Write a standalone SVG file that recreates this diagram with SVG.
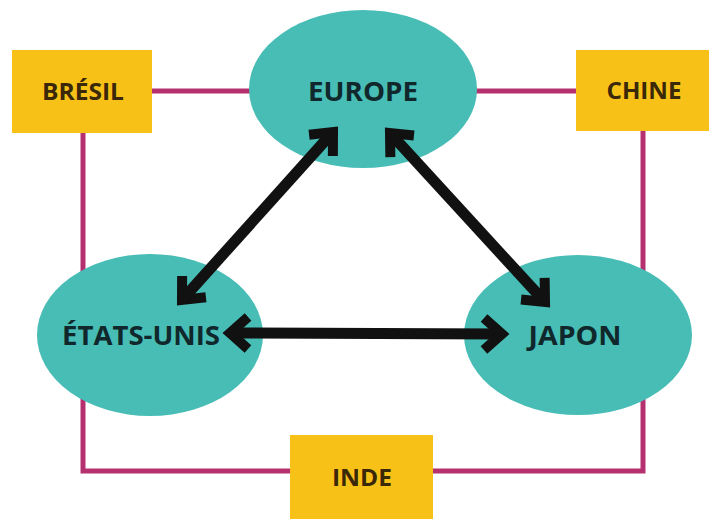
<svg xmlns="http://www.w3.org/2000/svg" width="709" height="519" viewBox="0 0 709 519">
<style>
.link{fill:none;stroke:#B5306F;stroke-width:5}
.region{fill:#47BDB5}
.country{fill:#F8C117}
.arrow{fill:none;stroke:#111;stroke-width:11;marker-start:url(#chev);marker-end:url(#chev)}
.lt{font-family:"Open Sans","Liberation Sans",sans-serif;font-weight:bold;text-anchor:middle;dominant-baseline:central}
.rt{fill:#10282B;font-size:26px}
.ct{fill:#3A2808;font-size:23px}
</style>
<defs>
<marker id="chev" markerUnits="userSpaceOnUse" markerWidth="60" markerHeight="60" viewBox="-30 -30 60 60" refX="0" refY="0" orient="auto-start-reverse" overflow="visible">
<path d="M-18 -16 L0 0 L-18 16" fill="none" stroke="#111" stroke-width="10" stroke-linejoin="miter" stroke-miterlimit="10"/>
</marker>
</defs>
<rect width="709" height="519" fill="#fff"/>
<g id="links">
<path class="link" d="M152 91 H252"/>
<path class="link" d="M474 91 H576"/>
<path class="link" d="M83 133 V471 H290"/>
<path class="link" d="M643 130 V471 H433"/>
</g>
<g id="node-bresil">
<rect class="country" x="12" y="50" width="140" height="83"/>
<text class="lt ct" x="83" y="91" textLength="82" lengthAdjust="spacingAndGlyphs">BRÉSIL</text>
</g>
<g id="node-chine">
<rect class="country" x="576" y="50" width="140" height="81"/>
<text class="lt ct" x="644" y="90" textLength="75" lengthAdjust="spacingAndGlyphs">CHINE</text>
</g>
<g id="node-inde">
<rect class="country" x="290" y="435" width="143" height="90"/>
<text class="lt ct" x="362" y="477" textLength="60" lengthAdjust="spacingAndGlyphs">INDE</text>
</g>
<g id="node-europe">
<ellipse class="region" cx="363" cy="89" rx="114" ry="79"/>
<text class="lt rt" x="363" y="91" textLength="110" lengthAdjust="spacingAndGlyphs">EUROPE</text>
</g>
<g id="node-etats-unis">
<ellipse class="region" cx="150" cy="335" rx="113" ry="81"/>
<text class="lt rt" x="141" y="335" textLength="158" lengthAdjust="spacingAndGlyphs">ÉTATS-UNIS</text>
</g>
<g id="node-japon">
<ellipse class="region" cx="578" cy="335" rx="114" ry="80"/>
<text class="lt rt" x="575" y="335" textLength="93" lengthAdjust="spacingAndGlyphs">JAPON</text>
</g>
<g id="connectors">
<path class="arrow" d="M182 300 L333 132"/>
<path class="arrow" d="M390 133 L545 302"/>
<path class="arrow" d="M230 333 L502 334"/>
</g>
</svg>
